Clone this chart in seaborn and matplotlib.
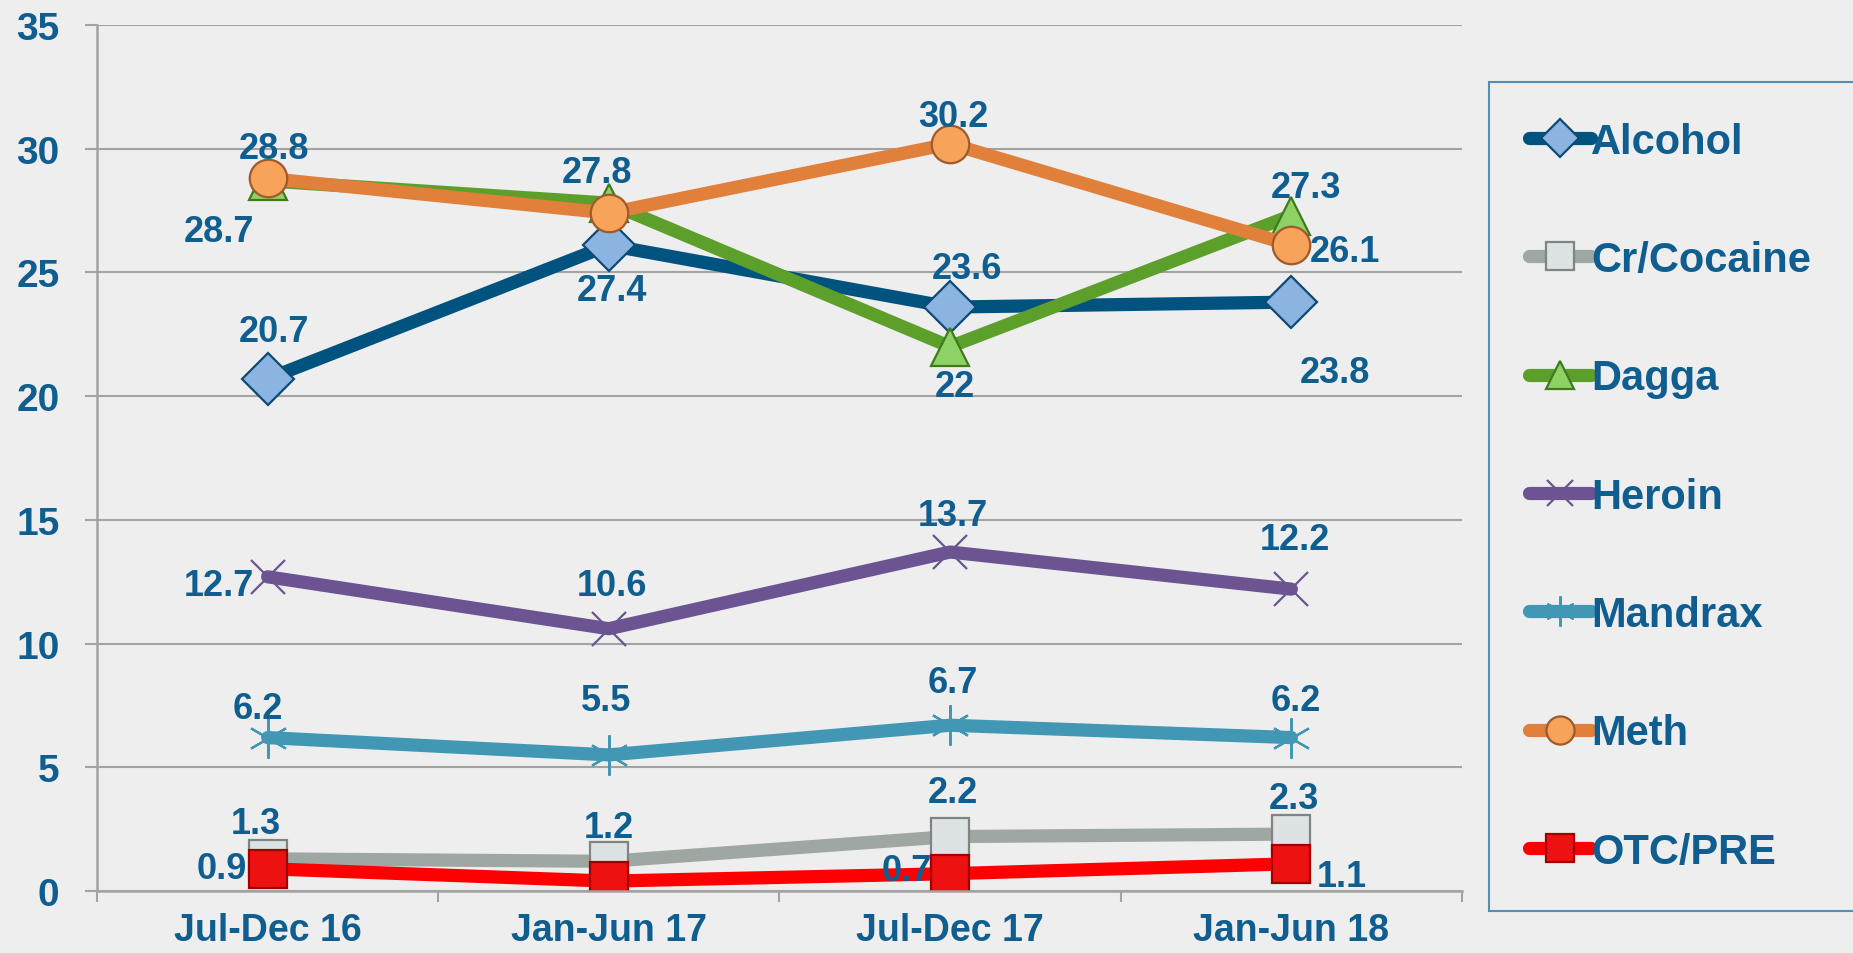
import pandas as pd
import matplotlib.pyplot as plt
import seaborn as sns

# ---- data ----
periods = ['Jul-Dec 16', 'Jan-Jun 17', 'Jul-Dec 17', 'Jan-Jun 18']
drugs = ['Alcohol', 'Cr/Cocaine', 'Dagga', 'Heroin', 'Mandrax', 'Meth', 'OTC/PRE']

alcohol = [20.7, 26.1, 23.6, 23.8]
cocaine = [1.3, 1.2, 2.2, 2.3]
dagga = [28.7, 27.8, 22.0, 27.3]
heroin = [12.7, 10.6, 13.7, 12.2]
mandrax = [6.2, 5.5, 6.7, 6.2]
meth = [28.8, 27.4, 30.2, 26.1]
otc = [0.9, 0.4, 0.7, 1.1]

# which data labels are visible in the original (False = hidden behind other marks)
shown = {
    'Alcohol': [True, False, True, True],
    'OTC/PRE': [True, False, True, True],
}

values = dict(zip(drugs, [alcohol, cocaine, dagga, heroin, mandrax, meth, otc]))

# ---- styles ----
TXT = '#0f5e8f'
BG = '#eeeeee'
GRID = '#a3a3a3'

styles = {
    'Alcohol':    dict(color='#00527f', marker='D', mfc='#8cb4e0', mec='#0d4a75', ms=26),
    'Cr/Cocaine': dict(color='#9fa7a3', marker='s', mfc='#dde2e2', mec='#7f8584', ms=27),
    'Dagga':      dict(color='#5c9f2b', marker='^', mfc='#8ed266', mec='#3f7a1d', ms=27),
    'Heroin':     dict(color='#6b5491', marker='x', mfc='none', mec='#6b5491', ms=25),
    'Mandrax':    dict(color='#4197b4', marker=(6, 2, 0), mfc='none', mec='#4197b4', ms=29),
    'Meth':       dict(color='#e0803a', marker='o', mfc='#f7a45a', mec='#a0592a', ms=27),
    'OTC/PRE':    dict(color='#ff0000', marker='s', mfc='#ee1111', mec='#a00000', ms=27),
}

# label offsets in pixels (dx right, dy down) from each point
offsets = {
    'Alcohol':    [(6, -47), None, (17, -39), (44, 70)],
    'Cr/Cocaine': [(-12, -35), (0, -34), (3, -44), (3, -36)],
    'Dagga':      [(-49, 51), (-12, -31), (5, 40), (15, -28)],
    'Heroin':     [(-49, 9), (3, -43), (3, -37), (4, -50)],
    'Mandrax':    [(-10, -29), (-3, -54), (3, -43), (4, -37)],
    'Meth':       [(6, -30), (3, 77), (3, -27), (54, 6)],
    'OTC/PRE':    [(-46, 0), None, (-43, -3), (50, 13)],
}

sns.set_theme(style='white')
plt.rcParams['font.family'] = ['Liberation Sans', 'DejaVu Sans']
plt.rcParams['font.weight'] = 'bold'

fig = plt.figure(figsize=(18.53, 9.54), dpi=100, facecolor=BG)
ax = fig.add_axes([97 / 1853, 1 - 892 / 954, (1462 - 97) / 1853, (892 - 26) / 954])
ax.set_facecolor(BG)

xpos = list(range(len(periods)))
for name in drugs:
    st = styles[name]
    sns.lineplot(x=xpos, y=values[name], ax=ax, color=st['color'], lw=9.5,
                 marker=st['marker'], markersize=st['ms'],
                 markerfacecolor=st['mfc'], markeredgecolor=st['mec'],
                 markeredgewidth=1.6, solid_capstyle='round', label=name,
                 legend=False)

# data labels
for name in drugs:
    vis = shown.get(name, [True] * len(periods))
    for i, v in enumerate(values[name]):
        off = offsets[name][i]
        if not vis[i] or off is None:
            continue
        ax.annotate(f'{v:g}', (i, v), xytext=(off[0] * 0.72, -off[1] * 0.72),
                    textcoords='offset points', ha='center', va='center',
                    fontsize=26, fontweight='bold', color=TXT, zorder=10)

# axes
ax.set_xlim(-0.5, 3.5)
ax.set_ylim(0, 35)
ax.set_yticks(range(0, 36, 5))
ax.set_xticks(xpos)
ax.set_xticklabels(periods)
ax.set_xticks([-0.5, 0.5, 1.5, 2.5, 3.5], minor=True)
ax.yaxis.grid(True, color=GRID, lw=1.5)
ax.set_axisbelow(True)
for s in ['top', 'right']:
    ax.spines[s].set_visible(False)
for s in ['left', 'bottom']:
    ax.spines[s].set_color(GRID)
    ax.spines[s].set_linewidth(1.8)
ax.tick_params(axis='y', direction='out', length=9, width=1.5, color=GRID,
               labelsize=28, labelcolor=TXT, pad=18, left=True)
ax.tick_params(axis='x', which='major', length=0, labelsize=27,
               labelcolor=TXT, pad=15)
ax.tick_params(axis='x', which='minor', direction='out', length=8, width=1.5,
               color=GRID, bottom=True)
for lab in ax.get_xticklabels() + ax.get_yticklabels():
    lab.set_fontweight('bold')
ax.set_xlabel('')
ax.set_ylabel('')

# legend
handles, labels = ax.get_legend_handles_labels()
leg = fig.legend(handles, labels, loc='upper left',
                 bbox_to_anchor=(1489 / 1853, 1 - 83 / 954, 0.3, 0.0),
                 mode='expand', fontsize=30, markerscale=0.75,
                 handlelength=1.5, handletextpad=0.0, labelspacing=1.88,
                 borderpad=0.95, borderaxespad=0, frameon=True, fancybox=False,
                 facecolor=BG, edgecolor='#2a78aa')
leg.get_frame().set_linewidth(1.5)
for t in leg.get_texts():
    t.set_color(TXT)
    t.set_fontweight('bold')

fig.savefig('out.png', dpi=100, facecolor=BG)
